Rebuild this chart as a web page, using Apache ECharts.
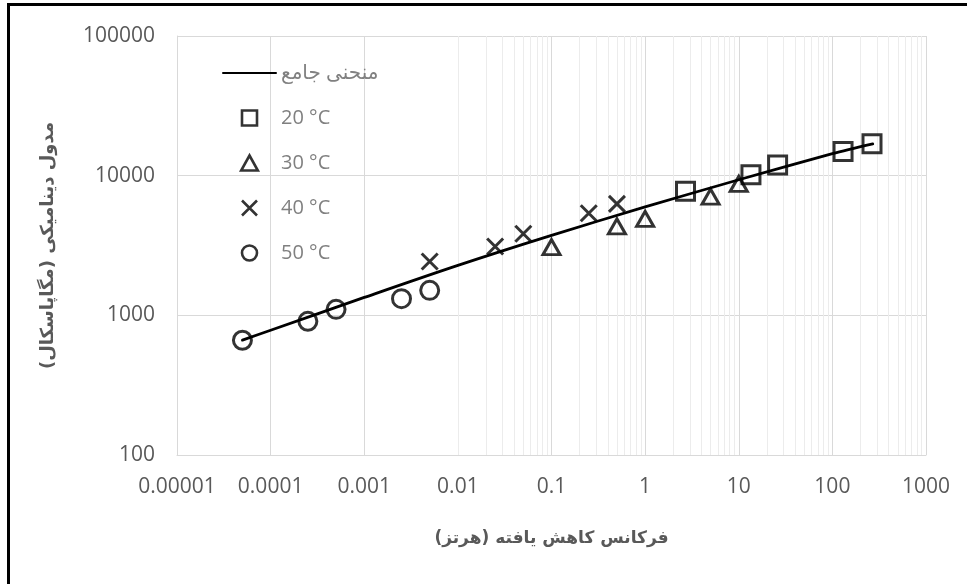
<!DOCTYPE html>
<html>
<head>
<meta charset="utf-8">
<script src="https://cdn.jsdelivr.net/npm/echarts@6/dist/echarts.min.js"></script>
<style>
html,body{margin:0;padding:0;background:#fff;}
#chart{width:967px;height:584px;}
</style>
</head>
<body>
<div id="chart"></div>
<script>
// ---- data ----
const xTickLabels = ['0.00001','0.0001','0.001','0.01','0.1','1','10','100','1000'];
const yTickLabels = ['100','1000','10000','100000'];

const fitName = 'منحنی جامع';
const fitFreq = [0.00005, 0.0001, 0.001, 0.01, 0.1, 1, 10, 100, 270];
const fitMod  = [664, 782, 1343, 2280, 3740, 5970, 9350, 14360, 16870];

const freq20 = [2.7, 13.5, 26, 130, 265];
const mod20  = [7730, 10150, 11900, 14900, 16900];

const freq30 = [0.1, 0.5, 1, 5, 10];
const mod30  = [3080, 4330, 4910, 7080, 8730];

const freq40 = [0.005, 0.025, 0.05, 0.25, 0.5];
const mod40  = [2430, 3110, 3840, 5380, 6280];

const freq50 = [0.00005, 0.00025, 0.0005, 0.0025, 0.005];
const mod50  = [663, 906, 1104, 1316, 1510];

const seriesNames = ['20 °C', '30 °C', '40 °C', '50 °C'];
const xTitle = 'فرکانس کاهش یافته (هرتز)';
const yTitle = 'مدول دینامیکی (مگاپاسکال)';

// ---- helpers ----
const pairs = (xs, ys) => xs.map((x, i) => [x, ys[i]]);
const minorX = [];
for (let e = -5; e < 3; e++) {
  for (let m = 2; m <= 9; m++) minorX.push({ xAxis: m * Math.pow(10, e) });
}
const FONT = "'Open Sans', 'DejaVu Sans', sans-serif";
const markerStyle = { color: 'rgba(0,0,0,0)', borderColor: '#000', borderWidth: 3 };
const SQUARE = 'path://M0,0H10V10H0Z';
const TRIANGLE = 'path://M5,0L10,9L0,9Z';
const CROSS = 'path://M0,0L10,10M10,0L0,10';

const chart = echarts.init(document.getElementById('chart'), null, { renderer: 'canvas' });
chart.setOption({
  animation: false,
  backgroundColor: '#fff',
  grid: { left: 177, right: 41, top: 36, bottom: 129, containLabel: false },
  xAxis: {
    type: 'log', logBase: 10, min: 0.00001, max: 1000,
    name: xTitle, nameLocation: 'middle', nameGap: 75,
    nameTextStyle: { fontFamily: "'DejaVu Sans', sans-serif", fontWeight: 'bold', fontSize: 17, color: '#595959' },
    axisLine: { show: true, lineStyle: { color: '#d9d9d9', width: 1 } },
    axisTick: { show: false },
    axisLabel: {
      margin: 22, fontSize: 21, color: '#595959', fontFamily: FONT,
      formatter: v => xTickLabels[Math.round(Math.log10(v)) + 5]
    },
    splitLine: { show: true, lineStyle: { color: '#d9d9d9', width: 1 } }
  },
  yAxis: {
    type: 'log', logBase: 10, min: 100, max: 100000,
    name: yTitle, nameLocation: 'middle', nameGap: 120, nameRotate: 90,
    nameTextStyle: { fontFamily: "'DejaVu Sans', sans-serif", fontWeight: 'bold', fontSize: 18, color: '#595959' },
    axisLine: { show: true, lineStyle: { color: '#d9d9d9', width: 1 } },
    axisTick: { show: false },
    axisLabel: {
      margin: 22, fontSize: 21, color: '#595959', fontFamily: FONT,
      formatter: v => yTickLabels[Math.round(Math.log10(v)) - 2]
    },
    splitLine: { show: true, lineStyle: { color: '#d9d9d9', width: 1 } }
  },
  legend: {
    data: [{ name: fitName, itemStyle: { opacity: 0 } }].concat(seriesNames),
    orient: 'vertical', left: 217, top: 58,
    itemWidth: 53, itemHeight: 15, itemGap: 25,
    symbolKeepAspect: true,
    itemStyle: { borderWidth: 2.6 },
    textStyle: { fontSize: 20, color: '#808080', fontFamily: FONT, lineHeight: 20 }
  },
  graphic: [
    { type: 'line', shape: { x1: 8.5, y1: 3, x2: 8.5, y2: 584 }, style: { stroke: '#000', lineWidth: 3 } },
    { type: 'line', shape: { x1: 7, y1: 4.5, x2: 967, y2: 4.5 }, style: { stroke: '#000', lineWidth: 3 } }
  ],
  series: [
    {
      name: 'minor-grid', type: 'scatter', data: [], silent: true, z: 0,
      markLine: {
        z: 0, zlevel: 0,
        silent: true, symbol: ['none', 'none'], label: { show: false },
        lineStyle: { color: '#ececec', width: 1, type: 'solid' },
        emphasis: { disabled: true },
        data: minorX
      }
    },
    {
      name: fitName, type: 'line', data: pairs(fitFreq, fitMod),
      smooth: 0.3, symbol: 'none', z: 3,
      lineStyle: { color: '#000', width: 2.8, join: 'round', cap: 'round' }, itemStyle: { color: '#000' }
    },
    {
      name: seriesNames[0], type: 'scatter', data: pairs(freq20, mod20),
      symbol: SQUARE, symbolSize: 18, symbolKeepAspect: true, z: 4, itemStyle: markerStyle
    },
    {
      name: seriesNames[1], type: 'scatter', data: pairs(freq30, mod30),
      symbol: TRIANGLE, symbolSize: [17, 15], z: 4, itemStyle: markerStyle
    },
    {
      name: seriesNames[2], type: 'scatter', data: pairs(freq40, mod40),
      symbol: CROSS, symbolSize: 16, symbolKeepAspect: true, z: 4,
      itemStyle: { color: '#000', borderColor: '#000', borderWidth: 3 }
    },
    {
      name: seriesNames[3], type: 'scatter', data: pairs(freq50, mod50),
      symbol: 'circle', symbolSize: 18, z: 4, itemStyle: markerStyle
    }
  ]
});
</script>
</body>
</html>
